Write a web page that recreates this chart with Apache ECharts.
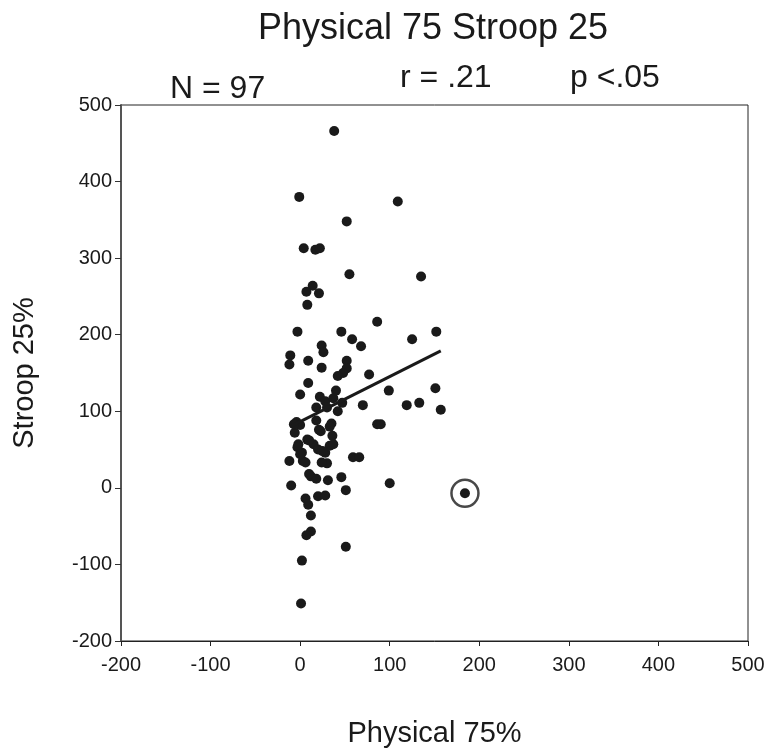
<!DOCTYPE html>
<html>
<head>
<meta charset="utf-8">
<script src="https://cdn.jsdelivr.net/npm/echarts@6/dist/echarts.min.js"></script>
<style>html,body{margin:0;padding:0;background:#fff;}#c{width:771px;height:756px;}</style>
</head>
<body>
<div id="c"></div>
<script>
var titleText = 'Physical 75 Stroop 25';
var statN = 'N = 97';
var statR = 'r = .21';
var statP = 'p <.05';
var xName = 'Physical 75%';
var yName = 'Stroop 25%';
var xTicks = [-200, -100, 0, 100, 200, 300, 400, 500];
var yTicks = [-200, -100, 0, 100, 200, 300, 400, 500];

var physical = [38,-1,109,52,4,17,22,55,135,14,7,21,8,-3,46,86,58,68,125,152,24,26,-11,-12,9,24,52,52,48,42,77,9,0,40,99,22,28,18,30,42,47,70,119,133,151,157,86,90,59,66,-4,0,-6,18,21,23,35,36,8,-2,15,20,28,33,37,2,3,-12,30,12,18,31,46,-10,51,100,20,28,6,9,12,12,7,51,2,1,37,33,10,-3,0,25,6,24,10,-7];
var stroop = [466,380,374,348,313,311,313,279,276,264,256,254,239,204,204,217,194,185,194,204,186,177,173,161,166,157,166,156,150,146,148,137,122,127,127,119,113,105,105,100,111,108,108,111,130,102,83,83,40,40,86,82,72,88,76,74,84,68,63,57,57,50,46,55,57,46,35,35,32,15,12,10,14,3,-3,6,-11,-10,-14,-22,-36,-57,-62,-77,-95,-151,117,80,62,53,44,48,33,33,18,83];
var outlierX = [184];
var outlierY = [-7];
var fitX = [-11, 157];
var fitY = [80, 179];

var pts = physical.map(function(v,i){return [v, stroop[i]];});
pts.push([outlierX[0], outlierY[0]]);
var ring = outlierX.map(function(v,i){return [v, outlierY[i]];});
var fit = fitX.map(function(v,i){return [v, fitY[i]];});

var font = 'Liberation Sans, Arial, sans-serif';
var ink = '#1a1a1a';
var chart = echarts.init(document.getElementById('c'));
chart.setOption({
  animation: false,
  backgroundColor: '#fff',
  title: [
    {text: titleText, left: 428, textAlign: 'center', top: 6, textStyle: {fontFamily: font, fontSize: 36, fontWeight: 'normal', color: ink}},
    {text: statN, left: 165, top: 68, textStyle: {fontFamily: font, fontSize: 32, fontWeight: 'normal', color: ink}},
    {text: statR, left: 395, top: 57, textStyle: {fontFamily: font, fontSize: 32, fontWeight: 'normal', color: ink}},
    {text: statP, left: 565, top: 57, textStyle: {fontFamily: font, fontSize: 32, fontWeight: 'normal', color: ink}}
  ],
  grid: {left: 121, right: 23, top: 105, bottom: 115, show: true, borderColor: '#222', borderWidth: 1, backgroundColor: '#fff'},
  xAxis: {
    type: 'value', min: -200, max: 500, interval: 100,
    name: xName, nameLocation: 'middle', nameGap: 78,
    nameTextStyle: {fontFamily: font, fontSize: 29, color: ink},
    axisLine: {show: true, onZero: false, lineStyle: {color: '#222', width: 1}},
    axisTick: {show: true, inside: false, length: 5, lineStyle: {color: '#222'}},
    axisLabel: {fontFamily: font, fontSize: 20, color: ink, margin: 14,
      formatter: function(v){return xTicks.indexOf(v) >= 0 ? String(v) : '';}},
    splitLine: {show: false}
  },
  yAxis: {
    type: 'value', min: -200, max: 500, interval: 100,
    name: yName, nameLocation: 'middle', nameGap: 82, nameRotate: 90,
    nameTextStyle: {fontFamily: font, fontSize: 29, color: ink},
    axisLine: {show: true, onZero: false, lineStyle: {color: '#555', width: 2}},
    axisTick: {show: true, inside: false, length: 6, lineStyle: {color: '#333'}},
    axisLabel: {fontFamily: font, fontSize: 20, color: ink, margin: 9,
      formatter: function(v){return yTicks.indexOf(v) >= 0 ? String(v) : '';}},
    splitLine: {show: false}
  },
  series: [
    {type: 'scatter', data: pts, symbol: 'circle', symbolSize: 10, itemStyle: {color: ink, opacity: 1}, z: 3},
    {type: 'scatter', data: ring, symbol: 'circle', symbolSize: 27, itemStyle: {color: 'rgba(0,0,0,0)', borderColor: ink, borderWidth: 2.5}, z: 4},
    {type: 'line', data: fit, symbol: 'none', lineStyle: {color: ink, width: 3}, z: 5}
  ]
});
</script>
</body>
</html>
